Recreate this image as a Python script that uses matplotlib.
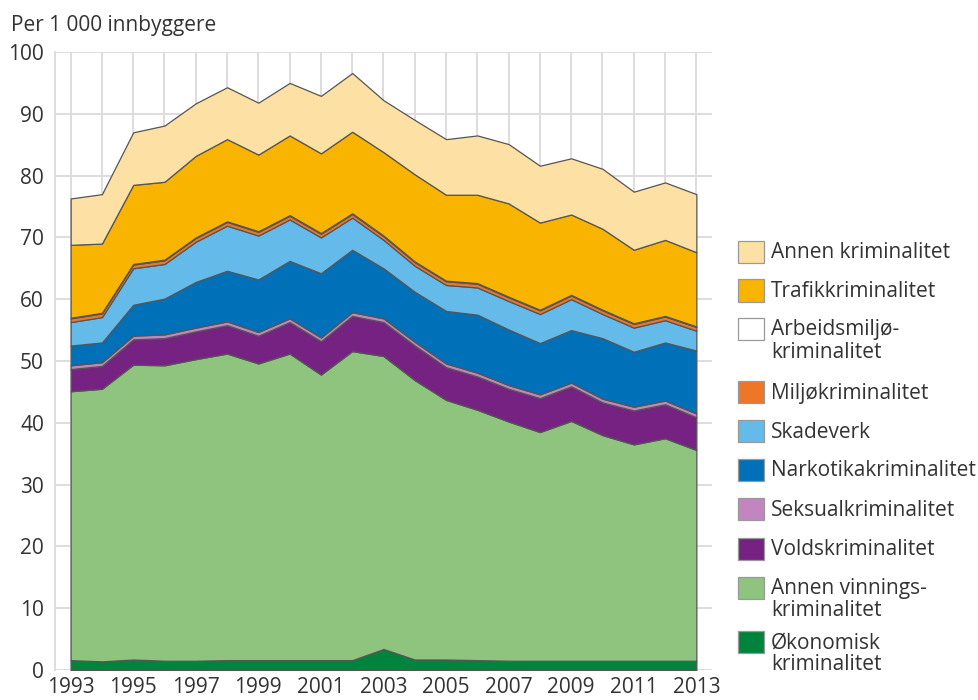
import matplotlib
matplotlib.use("Agg")
import matplotlib.pyplot as plt
from matplotlib.patches import Rectangle
import numpy as np

plt.rcParams['font.family'] = ['Open Sans', 'DejaVu Sans']

years = list(range(1993, 2014))

okonomisk = [1.6, 1.4, 1.7, 1.5, 1.5, 1.6, 1.6, 1.6, 1.6, 1.6, 3.4,
             1.7, 1.7, 1.6, 1.5, 1.5, 1.5, 1.5, 1.5, 1.5, 1.5]
annen_vinning = [43.5, 44.1, 47.7, 47.8, 48.8, 49.6, 48.0, 49.6, 46.2, 50.0, 47.4,
                 45.2, 42.0, 40.5, 38.7, 37.0, 38.8, 36.5, 35.0, 36.0, 34.1]
vold = [3.6, 3.7, 4.1, 4.4, 4.5, 4.6, 4.5, 5.1, 5.4, 5.7, 5.5,
        5.6, 5.3, 5.4, 5.3, 5.5, 5.6, 5.3, 5.5, 5.5, 5.3]
seksual = [0.6, 0.6, 0.6, 0.6, 0.6, 0.6, 0.6, 0.6, 0.6, 0.6, 0.6,
           0.6, 0.6, 0.6, 0.6, 0.6, 0.6, 0.6, 0.6, 0.6, 0.6]
narkotika = [3.2, 3.2, 5.0, 5.8, 7.4, 8.2, 8.5, 9.3, 10.4, 10.1, 8.1,
             8.1, 8.5, 9.4, 9.0, 8.3, 8.5, 9.8, 8.9, 9.4, 10.2]
skadeverk = [3.8, 4.1, 5.9, 5.6, 6.5, 7.3, 7.1, 6.7, 5.8, 5.2, 4.6,
             4.2, 4.2, 4.4, 4.6, 4.7, 5.0, 3.9, 3.9, 3.6, 3.2]
miljo = [0.6, 0.6, 0.6, 0.6, 0.6, 0.6, 0.6, 0.6, 0.6, 0.6, 0.6,
         0.6, 0.6, 0.6, 0.6, 0.6, 0.6, 0.6, 0.6, 0.6, 0.6]
arbeidsmiljo = [0.1, 0.1, 0.1, 0.1, 0.1, 0.1, 0.1, 0.1, 0.1, 0.1, 0.1,
                0.1, 0.1, 0.1, 0.1, 0.1, 0.1, 0.1, 0.1, 0.1, 0.1]
trafikk = [11.8, 11.2, 12.8, 12.6, 13.2, 13.3, 12.4, 12.9, 12.9, 13.2, 13.5,
           14.1, 13.9, 14.3, 15.1, 14.1, 13.0, 13.1, 11.9, 12.3, 12.0]
annen = [7.5, 8.0, 8.5, 9.1, 8.5, 8.4, 8.4, 8.5, 9.3, 9.5, 8.4,
         8.8, 9.0, 9.6, 9.6, 9.2, 9.1, 9.7, 9.4, 9.3, 9.4]

series = [okonomisk, annen_vinning, vold, seksual, narkotika,
          skadeverk, miljo, arbeidsmiljo, trafikk, annen]
labels = ["Økonomisk\nkriminalitet", "Annen vinnings-\nkriminalitet",
          "Voldskriminalitet", "Seksualkriminalitet", "Narkotikakriminalitet",
          "Skadeverk", "Miljøkriminalitet", "Arbeidsmiljø-\nkriminalitet",
          "Trafikkriminalitet", "Annen kriminalitet"]
colors = ["#00843D", "#8FC47E", "#762282", "#C285C0", "#0070B8",
          "#64BBE9", "#EE7628", "#FFFFFF", "#F9B400", "#FDE0A3"]

FS = 15
W, H = 979, 700
fig = plt.figure(figsize=(W / 100, H / 100), dpi=100)

def fx(px):
    return px / W

def fy(py):
    return 1 - py / H

ax = fig.add_axes([fx(55), fy(670), fx(712) - fx(55), fy(52) - fy(670)])

ax.stackplot(years, *series, colors=colors, edgecolor="#555555",
             linewidth=0.9, zorder=3)

ax.set_xlim(1992.5, 2013.5)
ax.set_ylim(0, 100)
ax.set_yticks(range(0, 101, 10))
ax.set_xticks(years, minor=True)
ax.set_xticks(list(range(1993, 2014, 2)))
ax.grid(True, which="both", axis="x", color="#dddddd", linewidth=1.4, zorder=0)
ax.grid(True, which="major", axis="y", color="#dddddd", linewidth=1.4, zorder=0)
ax.tick_params(which="both", length=0, labelsize=FS, colors="#333333")
ax.tick_params(axis="y", pad=8)
ax.tick_params(axis="x", pad=5)
for s in ["top", "right", "bottom"]:
    ax.spines[s].set_visible(False)
ax.spines["left"].set_color("#dddddd")
ax.spines["left"].set_linewidth(1.4)
ax.set_axisbelow(True)

fig.text(fx(11), fy(25), "Per 1 000 innbyggere", fontsize=FS,
         color="#333333", ha="left", va="center")

# Legend (drawn manually, top to bottom)
leg_y = [252, 290.5, 329, 392, 431, 470, 509, 548.5, 587.5, 642]
order = list(range(len(series)))[::-1]
for yc, i in zip(leg_y, order):
    r = Rectangle((fx(738), fy(yc + 11)), fx(764) - fx(738), fy(yc - 11) - fy(yc + 11),
                  transform=fig.transFigure, facecolor=colors[i],
                  edgecolor="#999999", linewidth=0.9)
    fig.patches.append(r)
    lines = labels[i].split("\n")
    for k, line in enumerate(lines):
        fig.text(fx(771), fy(yc + 1 + k * 22), line, fontsize=FS,
                 color="#333333", ha="left", va="center")

fig.savefig("out.png", dpi=100)
